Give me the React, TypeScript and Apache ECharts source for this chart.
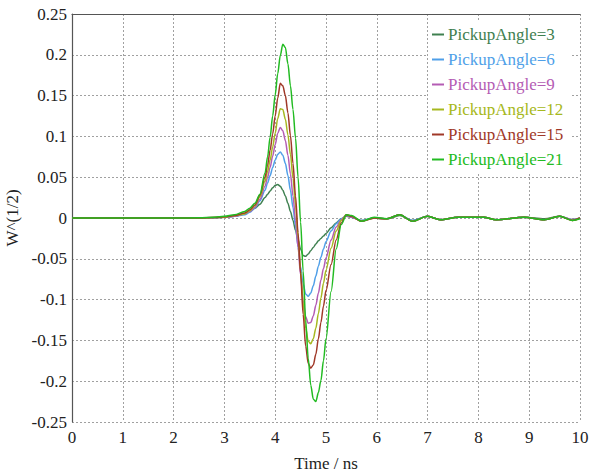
import React, { useEffect, useRef } from "react";
import * as echarts from "echarts";

const time = [
  0, 1, 2, 2.5, 2.8, 3.0, 3.2, 3.4, 3.5, 3.6,
  3.7, 3.8, 3.85, 3.9, 3.95, 4.0, 4.05, 4.1, 4.15, 4.2,
  4.25, 4.3, 4.35, 4.4, 4.45, 4.5, 4.55, 4.6, 4.65, 4.7,
  4.75, 4.8, 4.85, 4.9, 4.95, 5.0, 5.1, 5.2, 5.3, 5.4,
  5.5, 5.7, 5.95, 6.2, 6.45, 6.7, 7.0, 7.25, 7.6, 8.1,
  8.35, 8.9, 9.3, 9.6, 9.85, 10,
];

const angle3 = [
  0, 0, 0, 0.0001, 0.0003, 0.0008, 0.002, 0.005, 0.008, 0.012,
  0.017, 0.025, 0.029, 0.033, 0.037, 0.04, 0.041, 0.039, 0.034, 0.027,
  0.018, 0.008, -0.003, -0.015, -0.027, -0.038, -0.046, -0.047, -0.044, -0.04,
  -0.036, -0.032, -0.028, -0.025, -0.022, -0.019, -0.012, -0.006, -0.001, 0.002,
  0.001, -0.003, 0.0, -0.001, 0.003, -0.003, 0.002, -0.002, 0.001, 0.001,
  -0.002, 0.001, -0.001, 0.002, -0.002, 0,
];
const angle6 = [
  0, 0, 0, 0.0001, 0.0004, 0.001, 0.002, 0.004, 0.007, 0.012,
  0.021, 0.034, 0.043, 0.052, 0.062, 0.071, 0.078, 0.081, 0.077, 0.067,
  0.052, 0.034, 0.013, -0.01, -0.035, -0.06, -0.081, -0.093, -0.096, -0.092,
  -0.083, -0.071, -0.059, -0.048, -0.038, -0.029, -0.016, -0.007, -0.001, 0.003,
  0.001, -0.003, 0.0, -0.001, 0.004, -0.003, 0.002, -0.002, 0.001, 0.001,
  -0.002, 0.001, -0.002, 0.002, -0.002, 0,
];
const angle9 = [
  0, 0, 0, 0.0001, 0.0005, 0.001, 0.002, 0.005, 0.008, 0.013,
  0.023, 0.039, 0.05, 0.062, 0.076, 0.09, 0.104, 0.111, 0.107, 0.095,
  0.077, 0.054, 0.027, -0.003, -0.036, -0.07, -0.101, -0.121, -0.129, -0.128,
  -0.12, -0.107, -0.092, -0.076, -0.062, -0.049, -0.027, -0.011, -0.002, 0.003,
  0.001, -0.004, 0.0, -0.001, 0.004, -0.004, 0.002, -0.002, 0.001, 0.001,
  -0.002, 0.001, -0.002, 0.002, -0.002, 0,
];
const angle12 = [
  0, 0, 0, 0.0001, 0.0005, 0.001, 0.003, 0.005, 0.009, 0.015,
  0.026, 0.045, 0.057, 0.071, 0.087, 0.104, 0.122, 0.134, 0.133, 0.121,
  0.102, 0.078, 0.049, 0.016, -0.022, -0.064, -0.104, -0.135, -0.151, -0.154,
  -0.148, -0.135, -0.117, -0.098, -0.08, -0.064, -0.037, -0.016, -0.003, 0.004,
  0.002, -0.004, 0.0, -0.001, 0.004, -0.004, 0.002, -0.002, 0.001, 0.001,
  -0.002, 0.001, -0.002, 0.002, -0.003, 0,
];
const angle15 = [
  0, 0, 0, 0.0001, 0.0006, 0.0015, 0.003, 0.006, 0.01, 0.016,
  0.028, 0.05, 0.065, 0.083, 0.103, 0.125, 0.147, 0.165, 0.162, 0.15,
  0.129, 0.101, 0.067, 0.027, -0.018, -0.068, -0.118, -0.157, -0.178, -0.184,
  -0.18, -0.167, -0.148, -0.128, -0.108, -0.089, -0.057, -0.027, -0.006, 0.004,
  0.002, -0.004, 0.0, -0.001, 0.004, -0.004, 0.002, -0.002, 0.001, 0.001,
  -0.002, 0.001, -0.002, 0.002, -0.003, 0,
];
const angle21 = [
  0, 0, 0, 0.0002, 0.0008, 0.002, 0.004, 0.008, 0.012, 0.018,
  0.029, 0.055, 0.075, 0.099, 0.125, 0.151, 0.177, 0.199, 0.213, 0.209,
  0.189, 0.162, 0.133, 0.098, 0.05, -0.005, -0.065, -0.125, -0.172, -0.205,
  -0.222, -0.225, -0.214, -0.199, -0.175, -0.148, -0.09, -0.038, -0.008, 0.004,
  0.003, -0.004, 0.001, -0.001, 0.004, -0.004, 0.002, -0.002, 0.001, 0.001,
  -0.002, 0.001, -0.002, 0.002, -0.003, -0.001,
];

const seriesNames = [
  "PickupAngle=3",
  "PickupAngle=6",
  "PickupAngle=9",
  "PickupAngle=12",
  "PickupAngle=15",
  "PickupAngle=21",
];
const seriesValues = [angle3, angle6, angle9, angle12, angle15, angle21];
const seriesColors = ["#3f8050", "#4f9fe8", "#b45cb4", "#a6b820", "#a03828", "#22bb22"];

const yTicks = { min: -0.25, max: 0.25, interval: 0.05 };
const xTicks = { min: 0, max: 10, interval: 1 };

const FONT = "'Liberation Serif', 'Times New Roman', serif";

export default function App() {
  const ref = useRef<HTMLDivElement>(null);
  useEffect(() => {
    if (!ref.current) return;
    const chart = echarts.init(ref.current, undefined, { renderer: "svg" });
    const gridLine = { show: true, lineStyle: { color: "#a0a0a0", type: [2, 2] as any, width: 1 } };
    const labelStyle = { fontFamily: FONT, fontSize: 17, color: "#222" };
    const richLabel = {
      ...labelStyle,
      formatter: (v: number) => "{s|" + String(Math.round(v * 1000) / 1000) + "}",
      rich: { s: { ...labelStyle } },
    };
    chart.setOption({
      animation: false,
      backgroundColor: "#ffffff",
      textStyle: { fontFamily: FONT },
      grid: { left: 72, right: 11, top: 14, bottom: 53, outerBoundsMode: "none", containLabel: false },
      legend: {
        orient: "vertical",
        left: 428,
        top: 20,
        padding: [6, 8, 6, 4],
        backgroundColor: "#ffffff",
        itemWidth: 12,
        itemHeight: 2,
        itemGap: 8,
        icon: "rect",
        data: seriesNames.map((n, i) => ({
          name: n,
          textStyle: { color: seriesColors[i] },
        })),
        textStyle: { fontFamily: FONT, fontSize: 17, lineHeight: 17, padding: [0, 0, 0, -1] },
      },
      xAxis: [
        {
          type: "value",
          min: xTicks.min,
          max: xTicks.max,
          interval: xTicks.interval,
          name: "Time / ns",
          nameLocation: "middle",
          nameGap: 33,
          nameTextStyle: labelStyle,
          axisLine: { show: false },
          axisTick: { show: false },
          axisLabel: { ...richLabel, margin: 7 },
          splitLine: gridLine,
        },
        {
          type: "value",
          position: "top",
          min: xTicks.min,
          max: xTicks.max,
          interval: xTicks.interval,
          axisLine: { show: true, lineStyle: { color: "#555", width: 1.2 } },
          axisTick: { show: false },
          axisLabel: { show: false },
          splitLine: { show: false },
        },
      ],
      yAxis: {
        type: "value",
        min: yTicks.min,
        max: yTicks.max,
        interval: yTicks.interval,
        name: "W^(1/2)",
        nameLocation: "middle",
        nameGap: 45,
        nameTextStyle: labelStyle,
        axisLine: { show: true, lineStyle: { color: "#555", width: 1.2 } },
        axisTick: { show: false },
        axisLabel: { ...richLabel, margin: 5 },
        splitLine: gridLine,
      },
      series: seriesNames.map((n, i) => ({
        name: n,
        type: "line",
        xAxisIndex: 0,
        showSymbol: false,
        symbol: "none",
        smooth: 0.3,
        smoothMonotone: "x",
        lineStyle: { color: seriesColors[i], width: 1.5 },
        itemStyle: { color: seriesColors[i] },
        data: time.map((t, k) => [t, seriesValues[i][k]]),
        z: 2 + i,
      })),
    });
    return () => chart.dispose();
  }, []);
  return (
    <div
      ref={ref}
      style={{ position: "fixed", left: 0, top: 0, width: 591, height: 475 }}
    />
  );
}
